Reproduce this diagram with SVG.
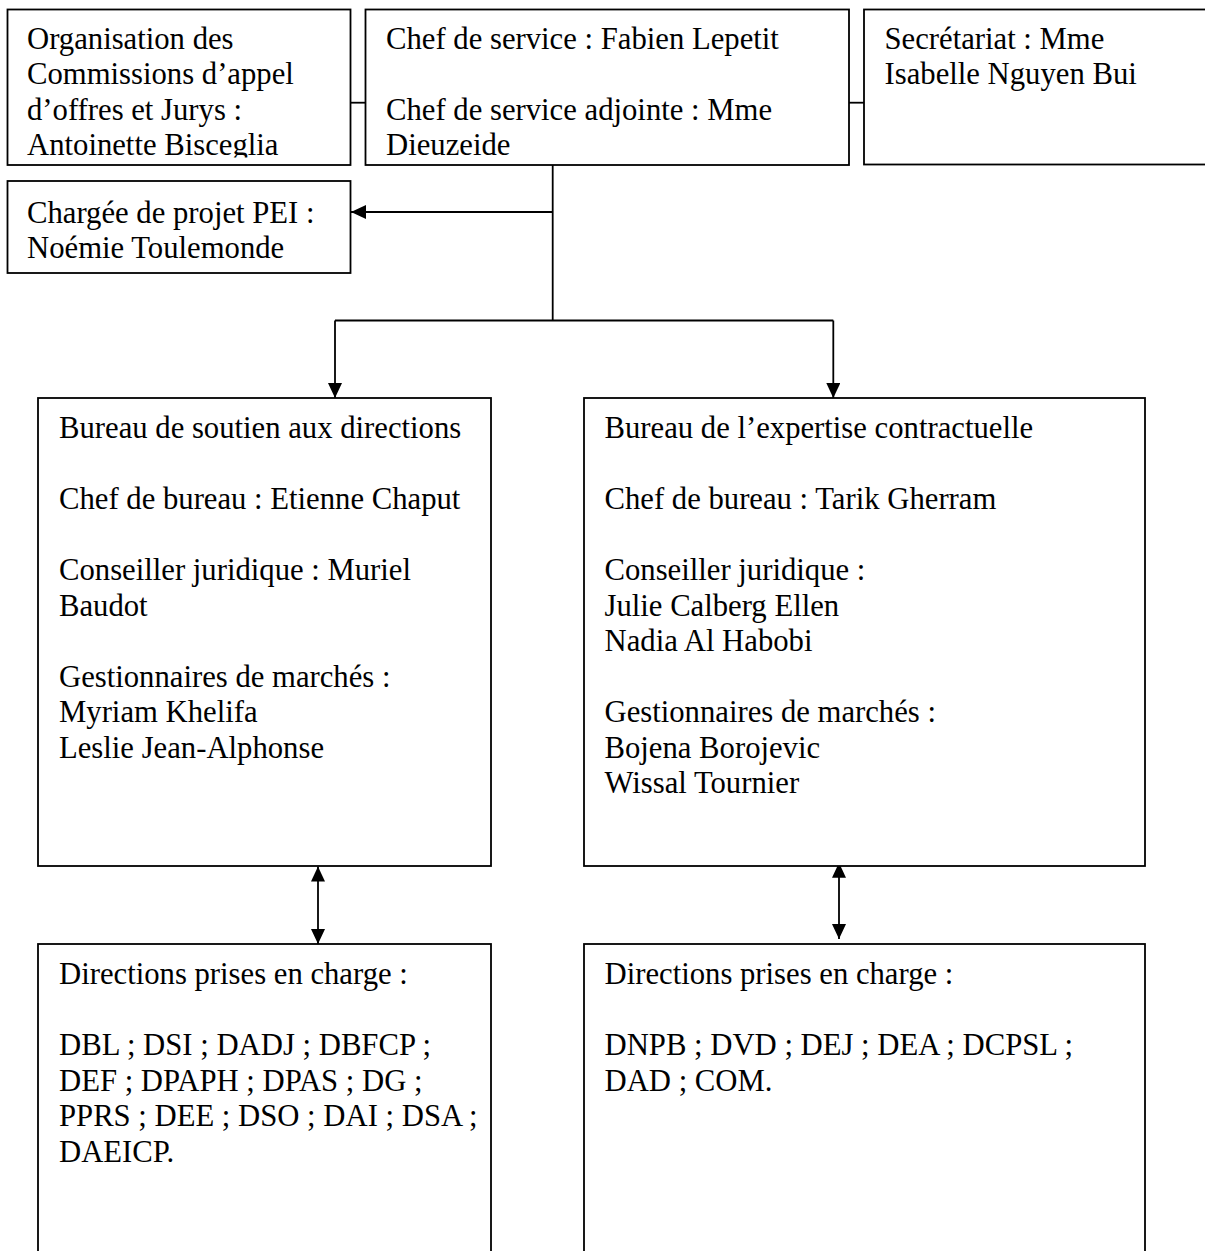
<svg xmlns="http://www.w3.org/2000/svg" width="1205" height="1251" viewBox="0 0 1205 1251">
<style>
.box{fill:#fff;stroke:#000;stroke-width:1.8}
.t{font-family:"Liberation Serif","Times New Roman",serif;font-size:30.7px;fill:#000}
.c{fill:none;stroke:#000;stroke-width:1.8}
</style>
<defs>
<marker id="ah" viewBox="0 0 15 14" refX="15" refY="7" markerWidth="15" markerHeight="14" orient="auto-start-reverse" markerUnits="userSpaceOnUse"><path d="M0,0 L15,7 L0,14 z" fill="#000"/></marker>
<clipPath id="clipA"><rect x="7.5" y="9.5" width="343" height="148"/></clipPath>
</defs>
<rect width="1205" height="1251" fill="#fff"/>
<g id="connectors">
<line class="c" x1="350.5" y1="102.7" x2="365.5" y2="102.7"/>
<line class="c" x1="849" y1="102.7" x2="864" y2="102.7"/>
<line class="c" x1="552.7" y1="165" x2="552.7" y2="320.5"/>
<line class="c" x1="552.7" y1="212" x2="351" y2="212" marker-end="url(#ah)"/>
<line class="c" x1="335" y1="320.5" x2="833.3" y2="320.5"/>
<line class="c" x1="335" y1="320.5" x2="335" y2="398" marker-end="url(#ah)"/>
<line class="c" x1="833.3" y1="320.5" x2="833.3" y2="398" marker-end="url(#ah)"/>
<line class="c" x1="318" y1="866.5" x2="318" y2="944" marker-start="url(#ah)" marker-end="url(#ah)"/>
<line class="c" x1="839" y1="862.7" x2="839" y2="939" marker-start="url(#ah)" marker-end="url(#ah)"/>
</g>
<g id="node-commissions">
<rect class="box" x="7.5" y="9.5" width="343" height="155.5"/>
<g clip-path="url(#clipA)">
<text class="t" x="27" y="48.5">Organisation des</text>
<text class="t" x="27" y="84">Commissions d’appel</text>
<text class="t" x="27" y="119.5">d’offres et Jurys :</text>
<text class="t" x="27" y="155">Antoinette Bisceglia</text>
</g>
</g>
<g id="node-chef">
<rect class="box" x="365.5" y="9.5" width="483.5" height="155.5"/>
<text class="t" x="386" y="48.5">Chef de service : Fabien Lepetit</text>
<text class="t" x="386" y="119.5">Chef de service adjointe : Mme</text>
<text class="t" x="386" y="155">Dieuzeide</text>
</g>
<g id="node-secretariat">
<rect class="box" x="864" y="9.5" width="360" height="155"/>
<text class="t" x="884.5" y="48.5">Secrétariat : Mme</text>
<text class="t" x="884.5" y="84">Isabelle Nguyen Bui</text>
</g>
<g id="node-pei">
<rect class="box" x="7.5" y="181" width="343" height="92"/>
<text class="t" x="27" y="222.5">Chargée de projet PEI :</text>
<text class="t" x="27" y="258">Noémie Toulemonde</text>
</g>
<g id="node-bureau-soutien">
<rect class="box" x="38" y="398" width="453" height="468"/>
<text class="t" x="59" y="438">Bureau de soutien aux directions</text>
<text class="t" x="59" y="509">Chef de bureau : Etienne Chaput</text>
<text class="t" x="59" y="580">Conseiller juridique : Muriel</text>
<text class="t" x="59" y="615.5">Baudot</text>
<text class="t" x="59" y="686.5">Gestionnaires de marchés :</text>
<text class="t" x="59" y="722">Myriam Khelifa</text>
<text class="t" x="59" y="757.5">Leslie Jean-Alphonse</text>
</g>
<g id="node-bureau-expertise">
<rect class="box" x="584" y="398" width="561" height="468"/>
<text class="t" x="604.5" y="438">Bureau de l’expertise contractuelle</text>
<text class="t" x="604.5" y="509">Chef de bureau : Tarik Gherram</text>
<text class="t" x="604.5" y="580">Conseiller juridique :</text>
<text class="t" x="604.5" y="615.5">Julie Calberg Ellen</text>
<text class="t" x="604.5" y="651">Nadia Al Habobi</text>
<text class="t" x="604.5" y="722">Gestionnaires de marchés :</text>
<text class="t" x="604.5" y="757.5">Bojena Borojevic</text>
<text class="t" x="604.5" y="793">Wissal Tournier</text>
</g>
<g id="node-directions-soutien">
<rect class="box" x="38" y="944" width="453" height="330"/>
<text class="t" x="59" y="984">Directions prises en charge :</text>
<text class="t" x="59" y="1055">DBL ; DSI ; DADJ ; DBFCP ;</text>
<text class="t" x="59" y="1090.5">DEF ; DPAPH ; DPAS ; DG ;</text>
<text class="t" x="59" y="1126">PPRS ; DEE ; DSO ; DAI ; DSA ;</text>
<text class="t" x="59" y="1161.5">DAEICP.</text>
</g>
<g id="node-directions-expertise">
<rect class="box" x="584" y="944" width="561" height="330"/>
<text class="t" x="604.5" y="984">Directions prises en charge :</text>
<text class="t" x="604.5" y="1055">DNPB ; DVD ; DEJ ; DEA ; DCPSL ;</text>
<text class="t" x="604.5" y="1090.5">DAD ; COM.</text>
</g>
</svg>
